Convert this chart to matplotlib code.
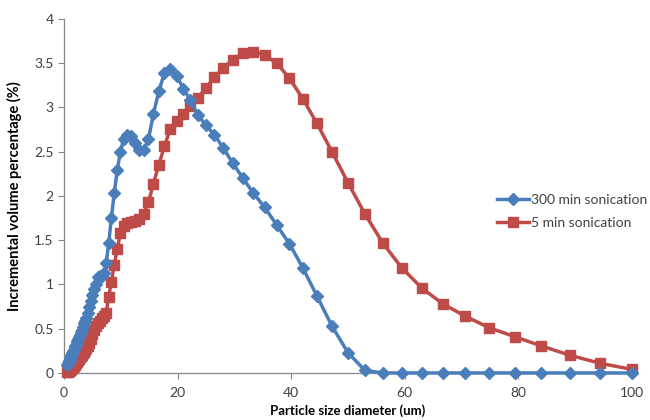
import matplotlib
matplotlib.use('Agg')
import matplotlib.pyplot as plt

# particle size bins (um)
sizeBins=[100.0, 94.39, 89.09, 84.09, 79.37, 74.92, 70.71, 66.74, 63.00, 59.46,
	56.12, 52.97, 50.00, 47.19, 44.54, 42.04, 39.69, 37.46, 35.36, 33.37,
	31.50, 29.73, 28.06, 26.49, 25.00, 23.60, 22.27, 21.02, 19.84, 18.73,
	17.68, 16.69, 15.75, 14.87, 14.03, 13.24, 12.50, 11.80, 11.14, 10.51,
	9.92, 9.37, 8.84, 8.34, 7.87, 7.43, 7.01, 6.62, 6.25, 5.90,
	5.57, 5.26, 4.96, 4.68, 4.42, 4.17, 3.94, 3.72, 3.51, 3.31,
	3.13, 2.95, 2.78, 2.63, 2.48, 2.34, 2.21, 2.09, 1.97, 1.86,
	1.76, 1.66, 1.56, 1.47, 1.39, 1.31, 1.24, 1.17, 1.10, 1.04,
	0.98, 0.93, 0.88, 0.83, 0.78, 0.66, 0.55]

sonic300=[0, 0, 0, 0, 0, 0, 0, 0, 0, 0,
	0, 0.03, 0.23, 0.53, 0.87, 1.19, 1.46, 1.67, 1.87, 2.03,
	2.20, 2.37, 2.54, 2.69, 2.80, 2.91, 3.08, 3.21, 3.36, 3.43,
	3.39, 3.18, 2.93, 2.64, 2.52, 2.52, 2.60, 2.68, 2.69, 2.64,
	2.50, 2.29, 2.03, 1.75, 1.47, 1.24, 1.13, 1.10, 1.10, 1.08,
	1.00, 0.95, 0.88, 0.81, 0.74, 0.68, 0.62, 0.59, 0.56, 0.52,
	0.49, 0.46, 0.43, 0.41, 0.38, 0.36, 0.34, 0.32, 0.30, 0.28,
	0.26, 0.25, 0.23, 0.22, 0.21, 0.20, 0.19, 0.18, 0.17, 0.16,
	0.15, 0.14, 0.13, 0.12, 0.11, 0.10, 0.09]

sonic5=[0.04, 0.11, 0.20, 0.305, 0.41, 0.51, 0.64, 0.78, 0.96, 1.19,
	1.47, 1.80, 2.15, 2.50, 2.82, 3.10, 3.33, 3.50, 3.59, 3.63,
	3.61, 3.54, 3.45, 3.34, 3.22, 3.11, 3.02, 2.93, 2.85, 2.76,
	2.56, 2.35, 2.14, 1.93, 1.80, 1.74, 1.72, 1.70, 1.69, 1.66,
	1.58, 1.40, 1.22, 1.03, 0.86, 0.68, 0.64, 0.62, 0.59, 0.56,
	0.53, 0.49, 0.44, 0.38, 0.34, 0.31, 0.28, 0.26, 0.24, 0.22,
	0.20, 0.19, 0.18, 0.16, 0.15, 0.14, 0.12, 0.11, 0.10, 0.09,
	0.08, 0.07, 0.065, 0.06, 0.055, 0.05, 0.045, 0.04, 0.035, 0.03,
	0.028, 0.025, 0.022, 0.02, 0.018, 0.015, 0.012]

labels=['300 min sonication', '5 min sonication']

plt.rcParams['font.family']=['Lato', 'DejaVu Sans']

fig=plt.figure(figsize=(6.5,4.2), dpi=100)
ax=fig.add_axes([0.0985, 0.112, 0.8735, 0.843])

ax.plot(sizeBins, sonic300, '-', color='#4A7EBB', lw=2.5, marker='D', ms=6,
	mec='#4A7EBB', mfc='#4A7EBB', clip_on=False, zorder=4, label=labels[0])
ax.plot(sizeBins, sonic5, '-', color='#BE4B48', lw=2.5, marker='s', ms=6.8,
	mec='#BE4B48', mfc='#BE4B48', clip_on=False, zorder=3, label=labels[1])

ax.set_xlim(0,100)
ax.set_ylim(0,4)
ax.set_xticks([0,20,40,60,80,100])
ax.set_yticks([0,0.5,1,1.5,2,2.5,3,3.5,4])
ax.set_yticklabels(['0','0.5','1','1.5','2','2.5','3','3.5','4'])

for s in ['top','right']:
	ax.spines[s].set_visible(False)
for s in ['left','bottom']:
	ax.spines[s].set_color('#868686')
	ax.spines[s].set_linewidth(0.9)
ax.tick_params(axis='both', direction='out', length=4, color='#868686',
	labelsize=10, labelcolor='#404040')
ax.tick_params(axis='x', pad=6)

ax.set_xlabel('Particle size diameter (um)', fontsize=9.5, fontweight='bold', labelpad=4)
ax.set_ylabel('Incremental volume percentage (%)', fontsize=10.5, fontweight='bold', labelpad=9)

ax.legend(loc='upper left', bbox_to_anchor=(0.74, 0.54), frameon=False, fontsize=10,
	handlelength=2.3, handletextpad=0.15, labelspacing=0.75, labelcolor='#404040')

plt.savefig('out.png')
